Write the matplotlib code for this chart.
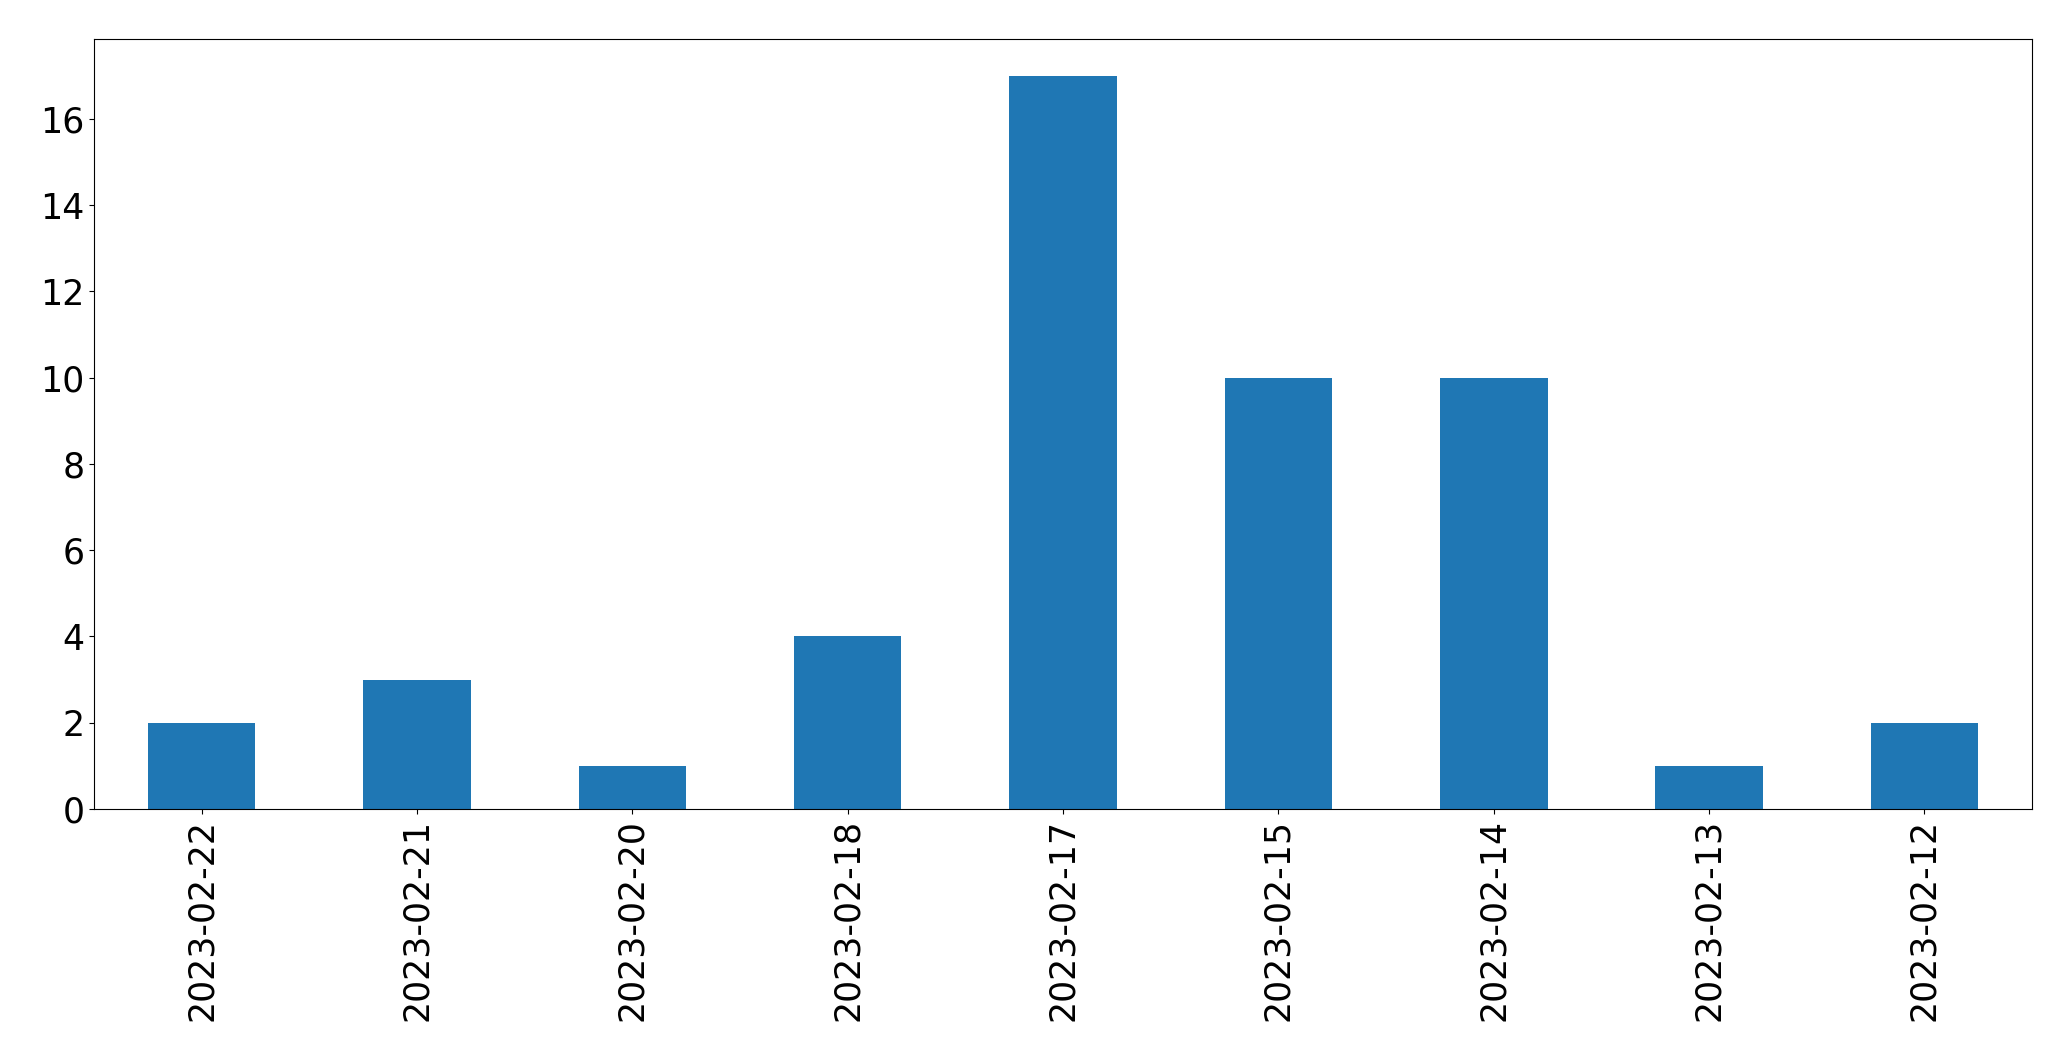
import matplotlib
matplotlib.use('Agg')
import matplotlib.pyplot as plt
import pandas as pd

# daily counts, newest first as in the original
dates = ['2023-02-22', '2023-02-21', '2023-02-20', '2023-02-18', '2023-02-17',
         '2023-02-15', '2023-02-14', '2023-02-13', '2023-02-12']
counts = [2, 3, 1, 4, 17, 10, 10, 1, 2]

s = pd.Series(counts, index=dates)

fig = plt.figure(figsize=(20.71, 10.61), dpi=100)
ax = fig.add_axes([94 / 2071, 1 - 809 / 1061, (2032 - 94) / 2071, (809 - 39) / 1061])
s.plot.bar(ax=ax, color='#1f77b4', fontsize=25)
ax.tick_params(axis='both', labelsize=25)

fig.savefig('out.png', dpi=100)
